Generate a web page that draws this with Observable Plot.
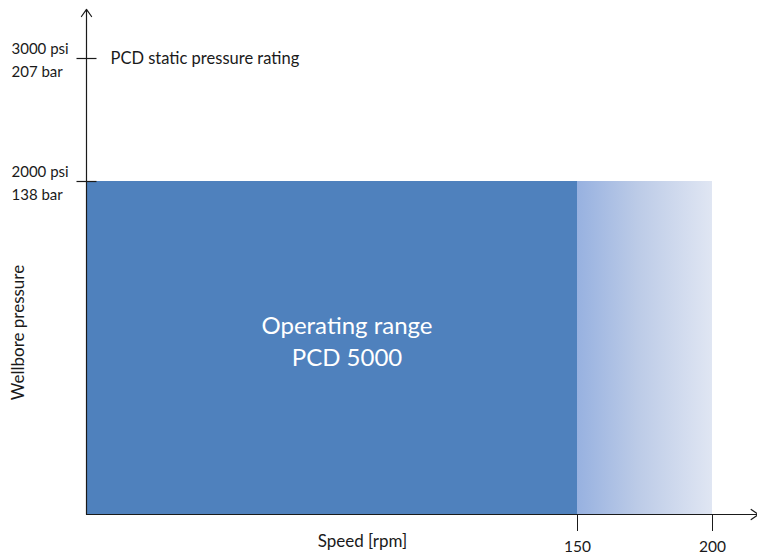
<!DOCTYPE html>
<html>
<head>
<meta charset="utf-8">
<script src="https://cdn.jsdelivr.net/npm/d3@7"></script>
<script src="https://cdn.jsdelivr.net/npm/@observablehq/plot@0.6"></script>
<style>
  html, body { margin: 0; padding: 0; background: #ffffff; }
  #chart svg { display: block; }
</style>
</head>
<body>
<div id="chart"></div>
<script>
// ---- Data ----
const speedBreaks = [0, 150, 200];          // rpm: axis origin, operating limit, extended limit
const xTicks = [150, 200];                  // rpm tick labels
const yBreaks = [0, 2000, 3000];            // psi: origin, operating pressure, static rating
const yTicks = [2000, 3000];
const yTickLabels = ["2000 psi\n138 bar", "3000 psi\n207 bar"];
const operatingPressure = 2000;
const staticRating = 3000;
const xAxisEnd = 217;                       // arrow tip (rpm)
const yAxisEnd = 3400;                      // arrow tip (psi)
const xLabel = "Speed [rpm]";
const yLabel = "Wellbore pressure";
const ratingLabel = "PCD static pressure rating";
const rangeLabel = "Operating range\nPCD 5000";

// regions built from the arrays above
const operating = {x1: speedBreaks[0], x2: speedBreaks[1], y1: 0, y2: operatingPressure};
const extended  = {x1: speedBreaks[1], x2: speedBreaks[2], y1: 0, y2: operatingPressure};
const axesLines = [
  {x1: 0, y1: 0, x2: xAxisEnd, y2: 0},
  {x1: 0, y1: 0, x2: 0, y2: yAxisEnd}
];

const hDash = {
  draw(ctx, size) {
    const r = Math.sqrt(size / Math.PI);
    ctx.moveTo(-r, 0);
    ctx.lineTo(r, 0);
  }
};

const gradientDefs = () => {
  const ns = "http://www.w3.org/2000/svg";
  const defs = document.createElementNS(ns, "defs");
  defs.innerHTML =
    '<linearGradient id="fade" x1="0" x2="1" y1="0" y2="0">' +
    '<stop offset="0" stop-color="#97B1E0"/>' +
    '<stop offset="0.45" stop-color="#BCCBE7"/>' +
    '<stop offset="1" stop-color="#E0E6F3"/>' +
    '</linearGradient>';
  return defs;
};

const ink = "#1a1a1a";

const chart = Plot.plot({
  width: 757,
  height: 556,
  marginLeft: 86,
  marginRight: 0,
  marginTop: 8,
  marginBottom: 42,
  style: {fontFamily: "Lato, 'Open Sans', sans-serif", fontSize: "15px", color: ink, background: "#ffffff"},
  x: {type: "linear", domain: speedBreaks, range: [86, 577, 712], axis: null},
  y: {type: "linear", domain: yBreaks, range: [514, 181, 58], axis: null},
  marks: [
    gradientDefs,
    Plot.rect([operating], {x1: "x1", x2: "x2", y1: "y1", y2: "y2", fill: "#4F81BD"}),
    Plot.rect([extended], {x1: "x1", x2: "x2", y1: "y1", y2: "y2", fill: "url(#fade)"}),
    Plot.text([operating], {
      x: d => (d.x1 + d.x2) / 2, y: d => (d.y1 + d.y2) / 2,
      text: () => rangeLabel, fill: "#ffffff", fontSize: 24, lineHeight: 1.3,
      dx: 15, dy: -8
    }),
    Plot.axisX(xTicks, {
      anchor: "bottom", tickSize: 17, tickPadding: 9, label: null,
      tickFormat: d => String(d), fontSize: 15.5, stroke: ink, fill: ink
    }),
    Plot.arrow(axesLines, {
      x1: "x1", y1: "y1", x2: "x2", y2: "y2",
      stroke: ink, strokeWidth: 1.2, headLength: 11, headAngle: 70
    }),
    Plot.dot(yTicks, {x: () => 0, y: d => d, r: 10, symbol: hDash, stroke: ink, fill: "none", strokeWidth: 1.2}),
    Plot.text(yTicks, {
      x: () => 0, y: d => d, text: (d, i) => yTickLabels[i],
      textAnchor: "start", dx: -75, lineHeight: 1.5, fontSize: 15, fill: ink
    }),
    Plot.text([staticRating], {
      x: () => 0, y: d => d, text: () => ratingLabel,
      textAnchor: "start", dx: 24, fontSize: 16.5, fill: ink
    }),
    Plot.text([xLabel], {
      frameAnchor: "bottom-left", text: d => d, textAnchor: "middle",
      dx: 276, dy: 32, fontSize: 17, fill: ink
    }),
    Plot.text([yLabel], {
      frameAnchor: "left", text: d => d, rotate: -90, textAnchor: "middle",
      dx: -68, dy: 71, fontSize: 17, fill: ink
    })
  ]
});

document.getElementById("chart").appendChild(chart);
</script>
</body>
</html>
